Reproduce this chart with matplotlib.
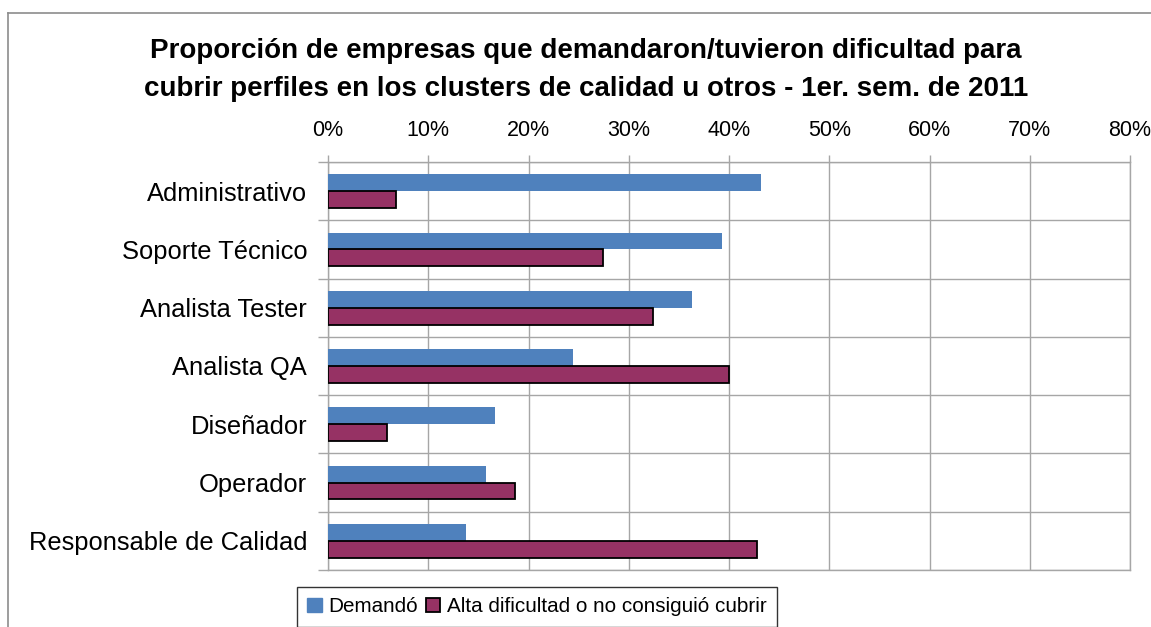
import matplotlib.pyplot as plt
import numpy as np
from matplotlib.patches import Patch
from matplotlib.ticker import FuncFormatter

plt.rcParams['font.family'] = ['Liberation Sans', 'DejaVu Sans']

# data (percent)
categories = ["Administrativo", "Soporte Técnico", "Analista Tester", "Analista QA",
              "Diseñador", "Operador", "Responsable de Calidad"]
demando = [43.2, 39.3, 36.3, 24.4, 16.7, 15.8, 13.8]
dificultad = [6.8, 27.4, 32.4, 40.0, 5.9, 18.7, 42.8]
x_ticks = [0, 10, 20, 30, 40, 50, 60, 70, 80]

blue = "#4F81BD"
red = "#963264"
grid_c = "#A6A6A6"

fig = plt.figure(figsize=(11.51, 6.27), dpi=100)
ax = fig.add_axes([328 / 1151, 1 - 570 / 627, (1130 - 328) / 1151, (570 - 162) / 627])

y = np.arange(len(categories))
h = 0.29
ax.barh(y - h / 2, demando, height=h, color=blue, zorder=3)
ax.barh(y + h / 2, dificultad, height=h, color=red, edgecolor="black", linewidth=1.3, zorder=3)

ax.set_xlim(0, 80)
ax.set_ylim(len(categories) - 0.5, -0.5)

# x axis on top
ax.xaxis.tick_top()
ax.set_xticks(x_ticks)
ax.xaxis.set_major_formatter(FuncFormatter(lambda v, p: f"{v:.0f}%"))
ax.tick_params(axis="x", which="major", direction="out", length=5, width=1,
               color=grid_c, labelsize=15.5, pad=10)

# category labels with separators
ax.set_yticks(y)
ax.set_yticklabels(categories)
ax.set_yticks(np.arange(-0.5, len(categories)), minor=True)
ax.tick_params(axis="y", which="major", length=0, labelsize=18.4, pad=15)
ax.tick_params(axis="y", which="minor", length=7, width=1, color=grid_c)

ax.grid(axis="x", which="major", color=grid_c, linewidth=1, zorder=0)
ax.grid(axis="y", which="minor", color=grid_c, linewidth=1, zorder=0)
for s in ax.spines.values():
    s.set_color(grid_c)
    s.set_linewidth(1)

# title
fig.text(586 / 1151, 1 - 70 / 627,
         "Proporción de empresas que demandaron/tuvieron dificultad para\n"
         "cubrir perfiles en los clusters de calidad u otros - 1er. sem. de 2011",
         ha="center", va="center", fontsize=20, fontweight="bold", linespacing=1.62)

# outer chart frame (cropped)
fig.add_artist(plt.Line2D([8 / 1151, 1.0], [1 - 13 / 627, 1 - 13 / 627],
                          transform=fig.transFigure, color="#8C8C8C", linewidth=1.2))
fig.add_artist(plt.Line2D([8 / 1151, 8 / 1151], [0, 1 - 13 / 627],
                          transform=fig.transFigure, color="#8C8C8C", linewidth=1.2))

handles = [Patch(facecolor=blue, edgecolor=blue),
           Patch(facecolor=red, edgecolor="black", linewidth=1.3)]
fig.legend(handles, ["Demandó", "Alta dificultad o no consiguió cubrir"],
           loc="upper left", bbox_to_anchor=(297 / 1151, 1 - 587 / 627), ncol=2,
           fontsize=14.9, frameon=True, fancybox=False, edgecolor="black",
           handlelength=0.7, handleheight=0.7, handletextpad=0.3, columnspacing=0.4,
           borderpad=0.5, borderaxespad=0)

fig.savefig("out.png", dpi=100)
